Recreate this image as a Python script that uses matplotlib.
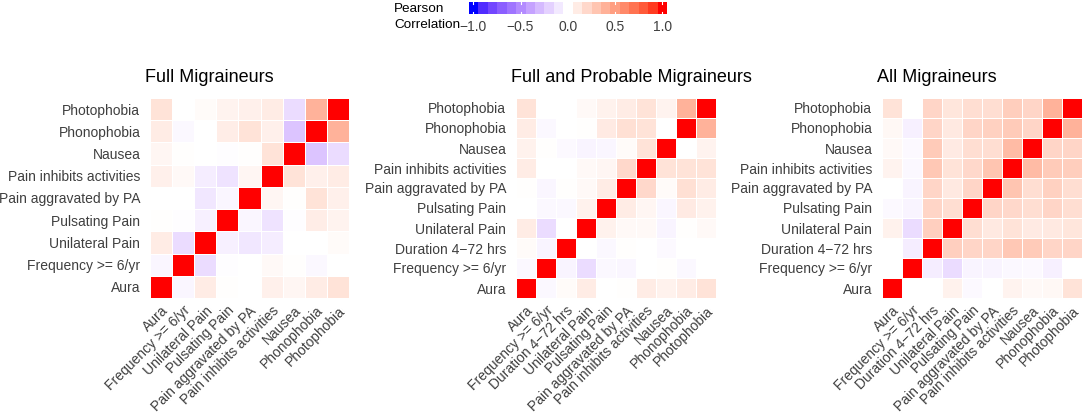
import matplotlib.pyplot as plt
import numpy as np
from matplotlib.colors import ListedColormap, Normalize

plt.rcParams['font.family'] = ['Liberation Sans', 'DejaVu Sans']

# variable names (bottom to top / left to right)
vars_full = ['Aura', 'Frequency >= 6/yr', 'Unilateral Pain', 'Pulsating Pain',
             'Pain aggravated by PA', 'Pain inhibits activities', 'Nausea',
             'Phonophobia', 'Photophobia']
vars_prob = ['Aura', 'Frequency >= 6/yr', 'Duration 4\u221272 hrs', 'Unilateral Pain',
             'Pulsating Pain', 'Pain aggravated by PA', 'Pain inhibits activities',
             'Nausea', 'Phonophobia', 'Photophobia']
vars_all = vars_prob

# lower triangles of the correlation matrices
low_full = [
    [1.0],
    [-0.04, 1.0],
    [0.10, -0.15, 1.0],
    [0.01, -0.01, -0.06, 1.0],
    [0.00, 0.00, -0.10, -0.04, 1.0],
    [0.08, 0.03, -0.08, -0.12, 0.05, 1.0],
    [0.05, 0.01, 0.00, -0.01, 0.01, 0.15, 1.0],
    [0.10, -0.03, 0.00, 0.09, 0.15, 0.08, -0.25, 1.0],
    [0.15, 0.00, 0.02, 0.06, 0.08, 0.10, -0.15, 0.40, 1.0],
]
low_prob = [
    [1.0],
    [-0.03, 1.0],
    [0.02, -0.05, 1.0],
    [0.10, -0.15, 0.00, 1.0],
    [0.00, -0.03, -0.03, 0.07, 1.0],
    [0.01, -0.04, 0.01, 0.03, 0.10, 1.0],
    [0.10, 0.00, 0.00, 0.03, 0.05, 0.20, 1.0],
    [0.07, 0.01, -0.02, -0.05, -0.04, 0.02, 0.15, 1.0],
    [0.10, -0.03, 0.00, 0.01, 0.11, 0.16, 0.15, 0.00, 1.0],
    [0.15, 0.00, 0.00, 0.03, 0.07, 0.10, 0.15, 0.06, 0.40, 1.0],
]
low_all = [
    [1.0],
    [0.00, 1.0],
    [0.00, -0.08, 1.0],
    [0.07, -0.15, 0.25, 1.0],
    [-0.02, -0.05, 0.22, 0.17, 1.0],
    [0.00, -0.05, 0.22, 0.12, 0.22, 1.0],
    [0.06, -0.03, 0.29, 0.15, 0.20, 0.30, 1.0],
    [0.03, -0.02, 0.27, 0.11, 0.17, 0.17, 0.35, 1.0],
    [0.04, -0.06, 0.22, 0.12, 0.22, 0.24, 0.27, 0.22, 1.0],
    [0.15, 0.00, 0.22, 0.13, 0.17, 0.17, 0.26, 0.22, 0.40, 1.0],
]

titles = ['Full Migraineurs', 'Full and Probable Migraineurs', 'All Migraineurs']


def full_matrix(low):
    n = len(low)
    m = np.zeros((n, n))
    for i, row in enumerate(low):
        for j, v in enumerate(row):
            m[i, j] = v
            m[j, i] = v
    return m


# blue - white - red gradient interpolated in Lab space (like ggplot2)
def srgb_to_lab(rgb):
    rgb = np.asarray(rgb, float)
    lin = np.where(rgb <= 0.04045, rgb / 12.92, ((rgb + 0.055) / 1.055) ** 2.4)
    M = np.array([[0.4124, 0.3576, 0.1805],
                  [0.2126, 0.7152, 0.0722],
                  [0.0193, 0.1192, 0.9505]])
    xyz = M @ lin / np.array([0.95047, 1.0, 1.08883])
    f = np.where(xyz > 0.008856, np.cbrt(xyz), 7.787 * xyz + 16 / 116)
    return np.array([116 * f[1] - 16, 500 * (f[0] - f[1]), 200 * (f[1] - f[2])])


def lab_to_srgb(lab):
    L, a, b = lab
    fy = (L + 16) / 116
    fx = fy + a / 500
    fz = fy - b / 200
    f = np.array([fx, fy, fz])
    xyz = np.where(f ** 3 > 0.008856, f ** 3, (f - 16 / 116) / 7.787)
    xyz = xyz * np.array([0.95047, 1.0, 1.08883])
    Minv = np.array([[3.2406, -1.5372, -0.4986],
                     [-0.9689, 1.8758, 0.0415],
                     [0.0557, -0.2040, 1.0570]])
    lin = Minv @ xyz
    rgb = np.where(lin <= 0.0031308, 12.92 * lin, 1.055 * np.clip(lin, 0, None) ** (1 / 2.4) - 0.055)
    return np.clip(rgb, 0, 1)


lab_blue = srgb_to_lab([0, 0, 1])
lab_white = srgb_to_lab([1, 1, 1])
lab_red = srgb_to_lab([1, 0, 0])
cols = []
for v in np.linspace(-1, 1, 257):
    if v < 0:
        lab = lab_white + (lab_blue - lab_white) * (-v)
    else:
        lab = lab_white + (lab_red - lab_white) * v
    cols.append(lab_to_srgb(lab))
cmap = ListedColormap(cols)
norm = Normalize(-1, 1)

W, H = 1084, 415
fig = plt.figure(figsize=(W / 100, H / 100), dpi=100)

lefts = [150, 516, 882]
widths = [199, 200, 200]
txt_col = '#3F3F3F'
fs = 10
for k, (low, names) in enumerate(zip([low_full, low_prob, low_all],
                                     [vars_full, vars_prob, vars_all])):
    m = full_matrix(low)
    n = len(names)
    ax = fig.add_axes([lefts[k] / W, (H - 298) / H, widths[k] / W, 200 / H])
    ax.pcolormesh(np.arange(n + 1), np.arange(n + 1), m, cmap=cmap, norm=norm,
                  edgecolors='white', linewidth=0.4)
    ax.set_xlim(0, n)
    ax.set_ylim(0, n)
    ax.set_xticks(np.arange(n) + 0.5)
    ax.set_yticks(np.arange(n) + 0.5)
    ax.set_xticklabels(names, rotation=45, ha='right', va='top',
                       rotation_mode='anchor', fontsize=fs, color=txt_col)
    ax.set_yticklabels(names, fontsize=fs, color=txt_col)
    ax.tick_params(axis='y', length=0, pad=7)
    ax.tick_params(axis='x', length=0, pad=4)
    for s in ax.spines.values():
        s.set_visible(False)
    fig.text((lefts[k] - 5) / W, 1 - 77 / H, titles[k], fontsize=13,
             ha='left', va='center', color='black')

# colour legend on top
cax = fig.add_axes([469 / W, (H - 14) / H, 198 / W, 12 / H])
edges = np.linspace(-1.045, 1.05, 22)
mids = (edges[:-1] + edges[1:]) / 2
cax.pcolormesh(edges, [0, 1], mids[None, :], cmap=cmap, norm=norm)
for t in [-1, -0.5, 0.5, 1]:
    cax.plot([t, t], [0, 0.2], color='white', lw=0.8)
    cax.plot([t, t], [0.8, 1], color='white', lw=0.8)
cax.set_xlim(-1.045, 1.05)
cax.set_ylim(0, 1)
cax.set_yticks([])
cax.set_xticks([-1, -0.5, 0, 0.5, 1])
cax.set_xticklabels(['\u22121.0', '\u22120.5', '0.0', '0.5', '1.0'], fontsize=fs, color=txt_col)
cax.tick_params(length=0, pad=4)
for s in cax.spines.values():
    s.set_visible(False)
fig.text(394 / W, 1 - 9 / H, 'Pearson', fontsize=9.7, ha='left', va='center')
fig.text(394 / W, 1 - 25 / H, 'Correlation', fontsize=9.7, ha='left', va='center')

fig.savefig('out.png', dpi=100)
